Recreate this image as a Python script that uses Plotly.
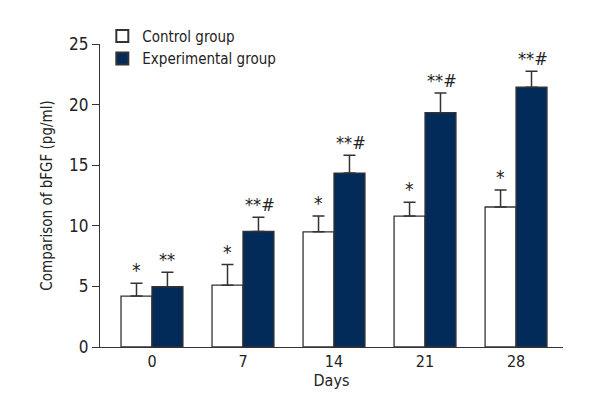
import plotly.graph_objects as go

days = ["0", "7", "14", "21", "28"]
control = [4.2, 5.1, 9.5, 10.8, 11.55]
control_err = [1.05, 1.7, 1.3, 1.15, 1.4]
experimental = [4.97, 9.53, 14.35, 19.33, 21.43]
experimental_err = [1.2, 1.17, 1.47, 1.63, 1.33]
control_marks = ["*", "*", "*", "*", "*"]
experimental_marks = ["**", "**#", "**#", "**#", "**#"]

FONT = "Liberation Sans Narrow, DejaVu Sans Condensed, Arial Narrow, sans-serif"
NAVY = "#022b5a"
EDGE = "#333333"
W = 0.34
xs = list(range(len(days)))

fig = go.Figure()
fig.add_trace(go.Bar(
    x=xs, y=control, name="Control group", width=W, offset=-W,
    marker=dict(color="white", line=dict(color=EDGE, width=1.3)),
    error_y=dict(type="data", array=control_err, arrayminus=[0]*5, symmetric=False,
                 color=EDGE, thickness=1.5, width=6),
))
fig.add_trace(go.Bar(
    x=xs, y=experimental, name="Experimental group", width=W, offset=0,
    marker=dict(color=NAVY, line=dict(color=EDGE, width=1.3)),
    error_y=dict(type="data", array=experimental_err, arrayminus=[0]*5, symmetric=False,
                 color=EDGE, thickness=1.5, width=6),
))

for i in xs:
    fig.add_annotation(x=i - W/2, y=control[i] + control_err[i], text=control_marks[i],
                       showarrow=False, yanchor="bottom", yshift=0,
                       font=dict(family=FONT, size=19, color="#222"))
    fig.add_annotation(x=i + W/2 + (0.02 if "#" in experimental_marks[i] else 0),
                       y=experimental[i] + experimental_err[i], text=experimental_marks[i],
                       showarrow=False, yanchor="bottom", yshift=0,
                       font=dict(family=FONT, size=18, color="#222"))

fig.update_layout(
    width=592, height=412,
    margin=dict(l=92, r=37, t=32, b=73),
    paper_bgcolor="white", plot_bgcolor="white",
    font=dict(family=FONT, size=15, color="#222"),
    barmode="overlay",
    showlegend=True,
    legend=dict(x=0.005, y=1.08, xanchor="left", yanchor="top", bgcolor="rgba(0,0,0,0)",
                font=dict(family=FONT, size=15), itemsizing="constant",
                tracegroupgap=0),
    xaxis=dict(range=[-0.571, 4.516], tickvals=xs, ticktext=days, showline=True,
               linecolor=EDGE, linewidth=1.3, ticks="", showgrid=False, zeroline=False,
               title=dict(text="Days", standoff=2, font=dict(size=16)),
               tickfont=dict(size=16)),
    yaxis=dict(range=[0, 25], dtick=5, showline=True, linecolor=EDGE, linewidth=1.3,
               ticks="outside", ticklen=7, tickcolor=EDGE, showgrid=False, zeroline=False,
               title=dict(text="Comparison of bFGF (pg/ml)", standoff=12, font=dict(size=15)),
               tickfont=dict(size=17)),
)

fig.write_html("out.html")
